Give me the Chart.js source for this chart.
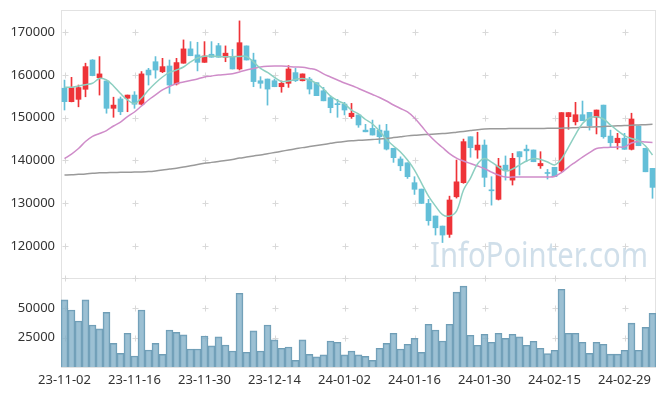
<!DOCTYPE html>
<html><head><meta charset="utf-8">
<script src="https://cdn.jsdelivr.net/npm/chart.js@4.4.1/dist/chart.umd.min.js"></script>
<style>html,body{margin:0;padding:0;background:#fff}#wrap{width:665px;height:396px;position:relative}</style>
</head><body><div id="wrap"><canvas id="c" width="665" height="396"></canvas></div>
<script>
const dates = ["23-11-02","23-11-03","23-11-06","23-11-07","23-11-08","23-11-09","23-11-10","23-11-13","23-11-14","23-11-15",
"23-11-16","23-11-17","23-11-20","23-11-21","23-11-22","23-11-23","23-11-24","23-11-27","23-11-28","23-11-29",
"23-11-30","23-12-01","23-12-04","23-12-05","23-12-06","23-12-07","23-12-08","23-12-11","23-12-12","23-12-13",
"23-12-14","23-12-15","23-12-18","23-12-19","23-12-20","23-12-21","23-12-22","23-12-26","23-12-27","23-12-28",
"24-01-02","24-01-03","24-01-04","24-01-05","24-01-08","24-01-09","24-01-10","24-01-11","24-01-12","24-01-15",
"24-01-16","24-01-17","24-01-18","24-01-19","24-01-22","24-01-23","24-01-24","24-01-25","24-01-26","24-01-29",
"24-01-30","24-01-31","24-02-01","24-02-02","24-02-05","24-02-06","24-02-07","24-02-08","24-02-13","24-02-14",
"24-02-15","24-02-16","24-02-19","24-02-20","24-02-21","24-02-22","24-02-23","24-02-26","24-02-27","24-02-28",
"24-02-29","24-03-04","24-03-05","24-03-06","24-03-07"];

const opens = [156900,153750,154300,156650,163500,159350,158600,152200,154400,154550,
155300,153150,161150,163100,160750,162100,157900,162750,166100,164700,
162950,164850,166850,164150,164150,161400,166800,163500,158650,159050,
158650,157250,158050,160550,158650,159050,158200,156300,154700,153300,
153200,150250,150650,147100,147500,147100,146900,142850,140350,139450,
134800,133300,129950,127000,124650,122700,131500,134800,145550,142450,
143600,133050,130900,138900,135400,142050,142650,142450,138750,137000,
138400,137600,150250,149050,150700,151250,150100,152950,145700,144150,
145200,142600,148050,142850,138150];
const highs = [158800,159450,157650,162750,163600,164300,158600,154800,154850,155300,
156100,160800,161550,164300,163900,163500,163900,168200,167800,167650,
167800,167800,167400,166800,166000,172650,166800,165100,159600,159050,
159050,158600,162200,161550,160250,159450,158200,157100,155100,154300,
153600,153350,150650,148450,149450,148300,148450,142850,140850,139450,
136200,133300,130900,127000,124650,131650,140100,145000,145550,146600,
144800,136200,140500,141050,141650,142050,143600,142450,142050,137900,
138400,151200,151200,153600,153900,151250,151800,152950,147100,146350,
146350,151050,148050,142850,138150];
const lows = [151800,153700,152550,154900,159800,155300,151050,150100,150700,151400,
152200,152950,157650,159250,160550,155700,157650,162750,164500,160950,
162950,164150,164150,163100,161400,161150,163500,157250,156900,152950,
157250,155950,157100,158450,158600,155550,155150,153950,151150,150100,
150650,149850,147750,146700,145950,144000,142450,139550,137600,135800,
132050,129950,124850,122550,120800,122000,131200,134650,140750,140500,
133850,129550,130750,135400,134250,136600,139700,139700,138150,135650,
136200,137350,147300,148300,149300,147100,146200,145200,143000,142650,
142600,142450,143450,137350,131150];
const closes = [153750,157050,157050,161950,159850,160250,152200,152950,151400,155300,
153150,160250,160000,161150,161950,157650,162900,166100,164500,162950,
164450,164150,164150,165100,161400,167550,163500,158450,158050,156700,
157250,158050,161400,158650,160250,156700,155150,153950,152350,153050,
151800,151050,148300,146700,145950,145550,142650,140650,138750,136200,
133250,129950,125900,124250,122550,130750,135000,144400,143000,143600,
136050,132900,138700,137750,140500,140850,142250,139700,139300,136950,
136200,151200,151200,150700,149300,148150,151800,145550,144150,145200,
142600,149700,143450,137350,133700];
const volumes = [57300,48700,39300,57300,35900,32500,46700,20200,11700,28800,
9400,48700,14500,20200,10800,31600,29600,27400,15400,15400,
26500,18000,25700,18800,13700,63000,12600,30800,13700,35900,
23100,16000,17100,5700,23100,10800,8600,10300,22200,21100,
10300,13700,10300,9100,5700,16000,20200,28800,15400,19400,
24500,12500,36500,31600,22200,36500,63900,69000,27100,18600,
28000,21100,28800,24500,28000,25700,18600,22000,16000,11400,
14300,66400,28800,28800,21100,11700,21100,19400,11000,11000,
14300,37400,14300,33900,45900];
const ma5 = [157120,157120,157430,157730,158050,159180,158830,157430,155670,154150,
153330,154620,156490,158130,159530,160590,161170,161870,163050,163980,
164400,164450,164330,164260,164260,164330,164330,163050,161520,160590,
159420,158480,158600,158950,159180,158830,158010,156720,155080,154030,
153210,151800,150870,149580,148530,146890,144900,143380,141970,140090,
137750,134710,131660,129320,127330,126980,128150,133070,135880,139160,
140450,139630,138460,137520,137990,138930,139860,140450,140210,139630,
138930,140330,143140,146070,148640,149930,150240,149700,148290,147000,
145830,145130,144660,143380,141270];
const ma20 = [140450,141500,142790,144430,145650,146300,147000,148060,148990,150280,
151340,152740,154150,155320,156490,157310,158010,158360,158710,159060,
159530,159770,160000,160120,160280,160700,161170,161520,161870,162040,
162110,162110,161990,161870,161800,161520,161170,160240,159530,158830,
158130,157540,156840,156140,155440,154730,153910,152980,152160,151340,
149930,148060,146070,144430,143020,141620,140560,139860,139280,138690,
138100,137280,136580,136110,136110,136110,136110,136110,136110,136110,
136230,137170,138460,139630,140800,141850,142790,143020,143070,143140,
143180,144080,144430,144310,144190];
const ma60 = [136580,136650,136750,136850,136980,137100,137150,137180,137220,137250,
137280,137320,137400,137550,137750,137980,138200,138450,138750,139050,
139320,139550,139780,140000,140250,140550,140800,141050,141300,141580,
141850,142150,142450,142720,143000,143250,143500,143750,144000,144250,
144450,144600,144700,144800,144900,145000,145150,145350,145550,145750,
145900,146000,146100,146200,146300,146400,146600,146800,147000,147200,
147350,147400,147420,147440,147460,147470,147480,147490,147500,147510,
147520,147560,147600,147680,147750,147820,147880,147950,148020,148100,
148170,148240,148310,148380,148455];
const priceTicks = [120000,130000,140000,150000,160000,170000];
const volumeTicks = [25000,50000];
const labelEvery = 10;

const UP = '#ee3338', DOWN = '#63bfd8';
const candleColors = closes.map((c,i) => c >= opens[i] ? UP : DOWN);
const FONT = '"Noto Sans", "DejaVu Sans", sans-serif';

const decor = {
  id: 'decor',
  beforeDatasetsDraw(chart) {
    const {ctx, chartArea: a, scales: {x, y, yv}} = chart;
    ctx.save();
    ctx.strokeStyle = '#e2e2e2'; ctx.lineWidth = 1;
    const L = Math.floor(a.left) + 0.5, R = Math.floor(a.right) - 0.5;
    [[y.top, y.bottom], [yv.top, yv.bottom]].forEach(([t, b]) => {
      ctx.strokeRect(L, Math.floor(t) + 0.5, R - L, Math.round(b - t));
    });
    ctx.strokeStyle = '#d9d9d9';
    const ys = priceTicks.map(v => y.getPixelForValue(v)).concat([y.bottom], volumeTicks.map(v => yv.getPixelForValue(v)));
    for (let i = 0; i < dates.length; i += labelEvery) {
      const px = Math.round(x.getPixelForValue(i)) + 0.5;
      ys.forEach(yy => {
        const py = Math.round(yy) + 0.5;
        ctx.beginPath();
        ctx.moveTo(px - 3, py); ctx.lineTo(px + 3, py);
        ctx.moveTo(px, py - 3); ctx.lineTo(px, py + 3);
        ctx.stroke();
      });
    }
    ctx.restore();
  },
  afterDatasetsDraw(chart) {
    const {ctx} = chart;
    ctx.save();
    ctx.font = '34px ' + FONT;
    ctx.fillStyle = 'rgba(170,196,216,0.55)';
    ctx.textBaseline = 'alphabetic';
    const text = 'InfoPointer.com';
    const w = ctx.measureText(text).width;
    ctx.translate(430, 267);
    ctx.scale(218 / w, 1);
    ctx.fillText(text, 0, 0);
    ctx.restore();
  }
};

const noPad = s => { s.paddingTop = 0; s.paddingBottom = 0; s.paddingLeft = 0; s.paddingRight = 0; };
const tickFont = {family: FONT, size: 13};
new Chart(document.getElementById('c'), {
  type: 'bar',
  data: {
    labels: dates,
    datasets: [
      {type: 'line', label: 'MA5', data: ma5, yAxisID: 'y', borderColor: '#8dcfc1', borderWidth: 1.5, pointRadius: 0, tension: 0.35, order: 0},
      {type: 'line', label: 'MA20', data: ma20, yAxisID: 'y', borderColor: '#cf8cc9', borderWidth: 1.5, pointRadius: 0, tension: 0.35, order: 0},
      {type: 'line', label: 'MA60', data: ma60, yAxisID: 'y', borderColor: '#9a9a9a', borderWidth: 1.5, pointRadius: 0, tension: 0.35, order: 0},
      {label: 'wick', data: lows.map((l, i) => [l, highs[i]]), yAxisID: 'y', backgroundColor: candleColors, barThickness: 1, grouped: false, order: 2},
      {label: 'body', data: opens.map((o, i) => [o, closes[i]]), yAxisID: 'y', backgroundColor: candleColors, barThickness: 5, minBarLength: 1, grouped: false, order: 1},
      {label: 'volume', data: volumes, yAxisID: 'yv', backgroundColor: 'rgba(128,174,198,0.78)', borderColor: '#6f9db5', borderWidth: 1, barPercentage: 1, categoryPercentage: 1, grouped: false, order: 3}
    ]
  },
  options: {
    responsive: false, animation: false,
    layout: {padding: {top: 10, right: 9, left: 0, bottom: 0}},
    plugins: {legend: {display: false}, tooltip: {enabled: false}},
    scales: {
      x: {
        type: 'category', offset: true,
        grid: {display: false, drawTicks: false, tickLength: 0}, border: {display: false},
        ticks: {autoSkip: false, maxRotation: 0, minRotation: 0, padding: 5, color: '#333', font: tickFont,
          callback: (v, i) => i % labelEvery === 0 ? dates[i] : ''},
        afterFit: s => { s.height = 29; noPad(s); }
      },
      y: {
        position: 'left', stack: 'panes', stackWeight: 268, weight: 1,
        min: 112500, max: 175200,
        afterBuildTicks: s => { s.ticks = priceTicks.map(v => ({value: v})); },
        grid: {display: false, drawTicks: false, tickLength: 0}, border: {display: false},
        ticks: {padding: 6, color: '#333', font: tickFont, callback: v => String(v)},
        afterFit: s => { s.width = 61; noPad(s); }
      },
      yv: {
        position: 'left', stack: 'panes', stackWeight: 89, weight: 0,
        min: 0, max: 76000,
        afterBuildTicks: s => { s.ticks = volumeTicks.map(v => ({value: v})); },
        grid: {display: false, drawTicks: false, tickLength: 0}, border: {display: false},
        ticks: {padding: 6, color: '#333', font: tickFont, callback: v => String(v)},
        afterFit: s => { s.width = 61; noPad(s); }
      }
    }
  },
  plugins: [decor]
});
</script></body></html>
